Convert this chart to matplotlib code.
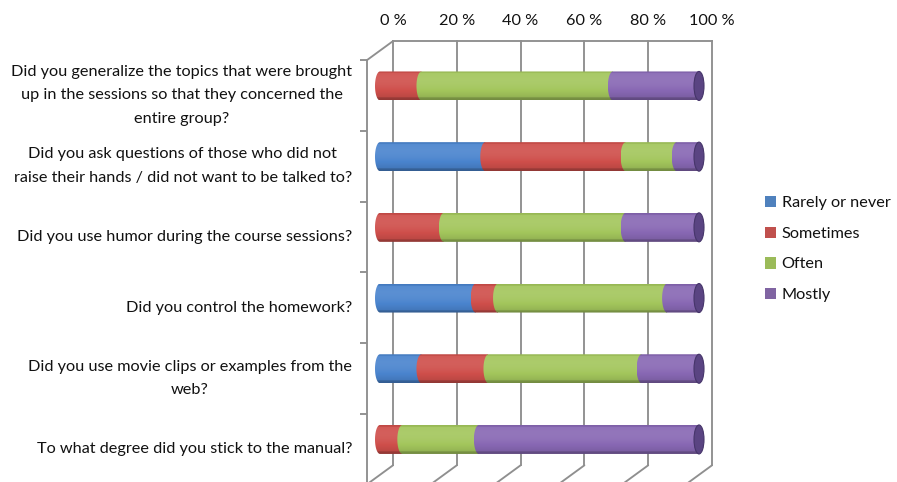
import numpy as np
import matplotlib
matplotlib.use("Agg")
import matplotlib.pyplot as plt
from matplotlib.path import Path
from matplotlib.patches import PathPatch, Ellipse, Patch, ConnectionPatch
from matplotlib.colors import to_rgb
from matplotlib.transforms import ScaledTranslation


categories = [
    "Did you generalize the topics that were brought\nup in the sessions so that they concerned the\nentire group?",
    "Did you ask questions of those who did not\nraise their hands / did not want to be talked to?",
    "Did you use humor during the course sessions?",
    "Did you control the homework?",
    "Did you use movie clips or examples from the\nweb?",
    "To what degree did you stick to the manual?",
]
series_names = ["Rarely or never", "Sometimes", "Often", "Mostly"]
rarely    = [0, 33, 0, 30, 13, 0]
sometimes = [13, 44, 20, 7, 21, 7]
often     = [60, 16, 57, 53, 48, 24]
mostly    = [27, 7, 23, 10, 18, 69]
x_ticks = [0, 20, 40, 60, 80, 100]

colors = ["#4A84CE", "#CF4F4B", "#A3C65C", "#8868B4"]
legend_colors = ["#4F81BD", "#C0504D", "#9BBB59", "#8064A2"]
cap_color = "#5A4482"
grid_color = "#8F8F8F"
text_color = "#111111"

plt.rcParams["font.family"] = ["Lato", "DejaVu Sans"]
FS = 11.7
DPI = 100

W, H = 897, 482
fig = plt.figure(figsize=(W / DPI, H / DPI), dpi=DPI)

# bar plane: 0..100 % -> x px 380..699, category rows 50.6..474.8 px
X0 = 380
PX = 3.19          # pixels per percent
PAD = 5            # extra percent on each side so the caps are not clipped
ax = fig.add_axes([(X0 - PAD * PX) / W, 1 - 474.8 / H,
                   (100 + 2 * PAD) * PX / W, 424.2 / H])
ax.set_xlim(-PAD, 100 + PAD)
ax.set_ylim(5.5, -0.5)
ax.axis("off")

# depth offsets for the 3D look
DX, DY = 13, 9.5
back = ax.transData + ScaledTranslation(DX / DPI, DY / DPI, fig.dpi_scale_trans)
front = ax.transData + ScaledTranslation(-DX / DPI, -DY / DPI, fig.dpi_scale_trans)
GLW = 1.35

# ── back wall gridlines ─────────────────────────────────────────────
for xv in x_ticks:
    ax.plot([xv, xv], [-0.5, 5.5], transform=back, color=grid_color,
            lw=GLW, clip_on=False, zorder=0)
    con = ConnectionPatch(xyA=(xv, 5.5), coordsA=back, xyB=(xv, 5.5),
                          coordsB=front, color=grid_color, lw=GLW, zorder=0)
    fig.add_artist(con)
    ax.text(xv, -0.5, f"{xv} %", transform=back + ScaledTranslation(0, 13 / DPI, fig.dpi_scale_trans),
            ha="center", va="bottom", fontsize=FS, color=text_color)
ax.plot([0, 100], [-0.5, -0.5], transform=back, color=grid_color,
        lw=GLW, clip_on=False, zorder=0)
fig.add_artist(ConnectionPatch(xyA=(0, -0.5), coordsA=back, xyB=(0, -0.5),
                               coordsB=front, color=grid_color, lw=GLW))

# ── left (front) category axis ──────────────────────────────────────
ax.plot([0, 0], [-0.5, 5.5], transform=front, color=grid_color,
        lw=GLW, clip_on=False, zorder=0)
bounds = np.arange(len(categories) + 1) - 0.5
ax.plot(np.zeros(len(bounds)), bounds, transform=front, ls="none",
        marker=0, markersize=5, mec=grid_color, mew=GLW, clip_on=False)

label_tr = front + ScaledTranslation(-15 / DPI, 0, fig.dpi_scale_trans)
for i, lab in enumerate(categories):
    ax.text(0, i, lab, transform=label_tr, ha="right", va="center",
            multialignment="center", fontsize=FS, color=text_color,
            linespacing=1.85)


# ── cylinder bars ───────────────────────────────────────────────────
def shade(color, n=64):
    base = np.array(to_rgb(color))
    t = np.linspace(0, 1, n)
    f = 1.06 - 0.40 * (t - 0.28) ** 2
    f = np.where(t < 0.05, f - 0.10, f)
    f = np.where(t > 0.92, f - 0.15, f)
    rows = []
    for k in f:
        if k >= 1:
            c = base + (1 - base) * (k - 1) * 1.5
        else:
            c = base * k
        rows.append(np.clip(c, 0, 1))
    img = np.array(rows)[:, None, :]
    return np.repeat(img, 2, axis=1)


BAR_H = 29 / 70.7
CAP_A = 5 / PX


def segment(left, right, y, color, z):
    th = np.linspace(np.pi / 2, 3 * np.pi / 2, 40)
    arc = np.column_stack([left + CAP_A * np.cos(th), y - BAR_H / 2 * np.sin(th)])
    verts = np.vstack([arc, [[right, y + BAR_H / 2], [right, y - BAR_H / 2],
                             [left, y - BAR_H / 2]]])
    patch = PathPatch(Path(verts), fc="none", ec="none")
    ax.add_patch(patch)
    im = ax.imshow(shade(color), extent=[left - CAP_A, right, y + BAR_H / 2, y - BAR_H / 2],
                   aspect="auto", interpolation="bilinear", zorder=z)
    im.set_clip_path(patch)


data = np.array([rarely, sometimes, often, mostly], dtype=float)
for i in range(len(categories)):
    left = 0.0
    for s in range(len(series_names)):
        w = data[s, i]
        if w <= 0:
            continue
        segment(left, left + w, i, colors[s], 2 + s * 0.1)
        left += w
    ax.add_patch(Ellipse((left, i), 2 * CAP_A, BAR_H, fc=cap_color,
                         ec="#46356A", lw=0.8, zorder=3))

ax.set_xlim(-PAD, 100 + PAD)
ax.set_ylim(5.5, -0.5)

# ── legend ──────────────────────────────────────────────────────────
handles = [Patch(fc=c, ec="none") for c in legend_colors]
fig.legend(handles, series_names, loc="center left",
           bbox_to_anchor=(750 / W, 1 - 249 / H), frameon=False,
           fontsize=FS, handlelength=0.7, handleheight=0.7,
           handletextpad=0.35, labelspacing=1.0, labelcolor=text_color)

fig.savefig("out.png", dpi=DPI)
